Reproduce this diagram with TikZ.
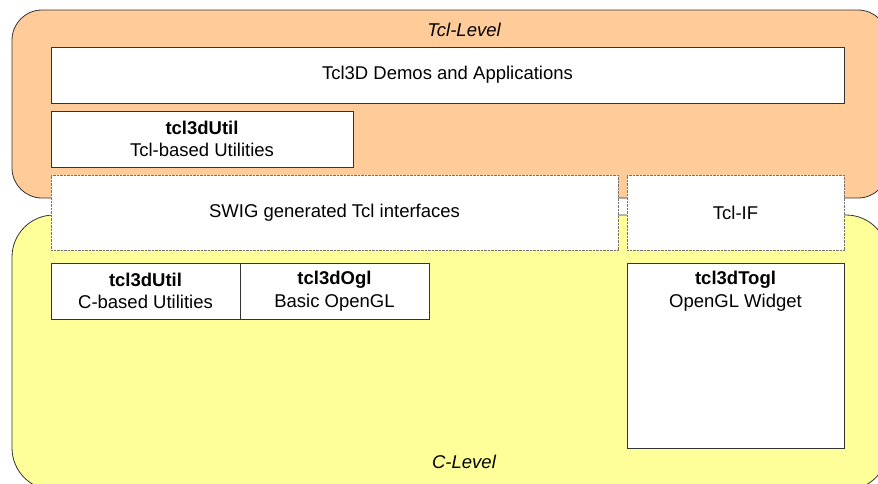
\documentclass[tikz,border=0pt]{standalone}
\usepackage{fontspec}
\setmainfont{Liberation Sans}
\usetikzlibrary{positioning}

\definecolor{tclorange}{HTML}{FFCC99}
\definecolor{cyellow}{HTML}{FFFF99}

\begin{document}
\begin{tikzpicture}[x=1pt,y=-1pt,
    level/.style={draw=black!80, line width=0.8pt, rounded corners=30pt},
    box/.style={draw=black!80, fill=white, line width=0.8pt, inner sep=0pt, outer sep=0pt,
        align=center, font=\fontsize{18.5}{22.5}\selectfont},
    ifbox/.style={box, draw=black!55, dash pattern=on 0.7pt off 0.7pt},
    lvltext/.style={font=\fontsize{18.5}{22.5}\selectfont\itshape}]
    \useasboundingbox(0,0)rectangle(878,483);
    \clip(0,0)rectangle(878,483);

    \filldraw[level, fill=tclorange](12,10)rectangle(888,198);
    \filldraw[level, fill=cyellow, rounded corners=42pt](12,215)rectangle(888,490);
    \node[lvltext](tcllevel)at(464,30){Tcl-Level};
    \node[lvltext](clevel)at(464,462){C-Level};

    \node[box, minimum width=793pt, minimum height=56pt](demos)at(447.5,75){Tcl3D Demos and Applications};
    \node[box, minimum width=302pt, minimum height=56pt](tclutil)at(202,139){\textbf{tcl3dUtil}\\Tcl-based Utilities};

    \node[ifbox, minimum width=567pt, minimum height=75pt](swig)at(334.5,212.5){SWIG generated Tcl interfaces};
    \node[ifbox, minimum width=217pt, minimum height=75pt](tclif)at(735.5,212.5){Tcl-IF};

    \node[box, minimum width=189pt, minimum height=56pt](cutil)at(145.5,291){\textbf{tcl3dUtil}\\C-based Utilities};
    \node[box, minimum width=189pt, minimum height=56pt, right=0pt of cutil](ogl){\textbf{tcl3dOgl}\\Basic OpenGL};
    \node[box, minimum width=217pt, minimum height=185pt](togl)at(735.5,355.5){};
    \node[align=center, font=\fontsize{18.5}{22.5}\selectfont, below=5pt of togl.north](togltext){\textbf{tcl3dTogl}\\OpenGL Widget};
\end{tikzpicture}
\end{document}
